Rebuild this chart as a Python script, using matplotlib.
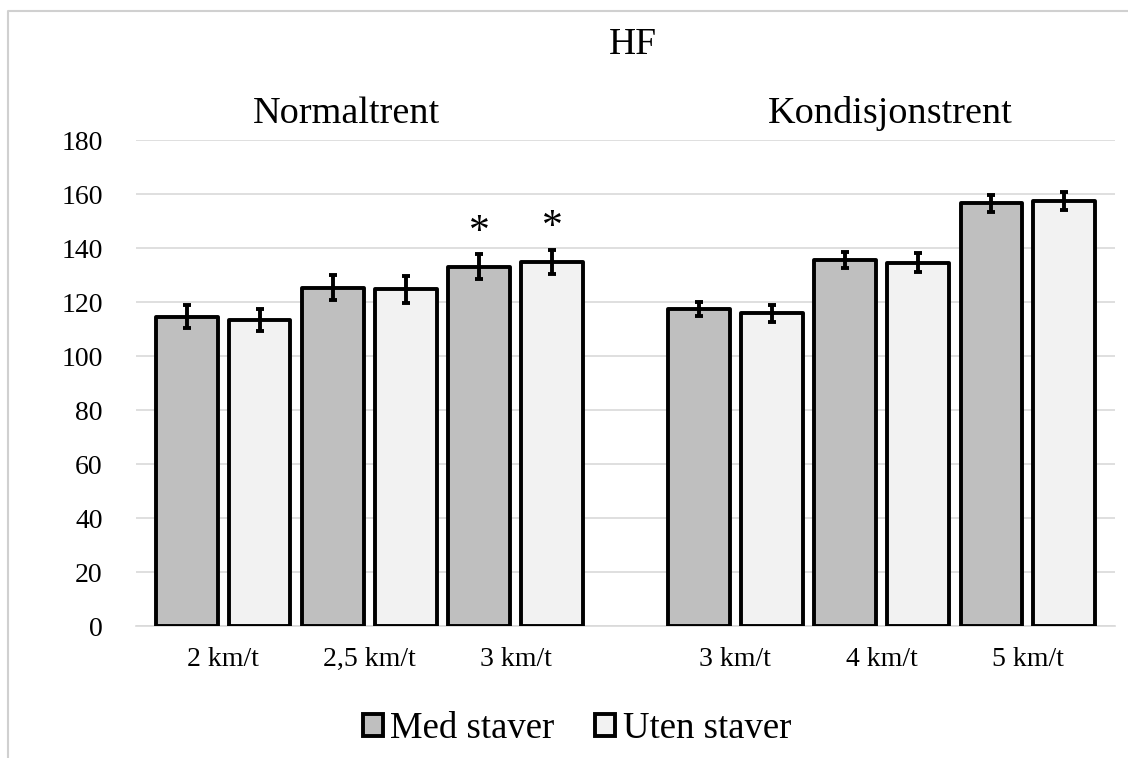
import matplotlib
matplotlib.use("Agg")
import matplotlib.pyplot as plt
from matplotlib.patches import Patch
from matplotlib.lines import Line2D
import numpy as np

categories = ["2 km/t", "2,5 km/t", "3 km/t", "3 km/t", "4 km/t", "5 km/t"]
positions = [0, 1, 2, 3.5, 4.5, 5.5]
med_staver = [114.6, 125.3, 133.1, 117.3, 135.6, 156.5]
med_err = [4.2, 4.7, 4.6, 2.6, 3.1, 3.3]
uten_staver = [113.3, 124.7, 134.9, 115.8, 134.6, 157.5]
uten_err = [4.0, 5.0, 4.5, 3.1, 3.5, 3.3]
significant = [False, False, True, False, False, False]

plt.rcParams["font.family"] = ["Liberation Serif", "DejaVu Serif"]

W, H = 1128, 758
fig = plt.figure(figsize=(W / 100, H / 100), dpi=100)
ax = fig.add_axes([136 / W, 1 - 626 / H, (1115 - 136) / W, (626 - 140) / H])

x = np.array(positions)
bw = 0.423
off = 0.249
grey = "#bfbfbf"
light = "#f2f2f2"
lw = 2.8

ax.bar(x - off, med_staver, bw, color=grey, edgecolor="black", linewidth=lw,
       joinstyle="round", zorder=3)
ax.bar(x + off, uten_staver, bw, color=light, edgecolor="black", linewidth=lw,
       joinstyle="round", zorder=3)
ek = dict(fmt="none", ecolor="black", elinewidth=2.8, capsize=3, capthick=2.8, zorder=4)
ax.errorbar(x - off, med_staver, yerr=med_err, **ek)
ax.errorbar(x + off, uten_staver, yerr=uten_err, **ek)

for i, sig in enumerate(significant):
    if sig:
        ax.text(x[i] - off, med_staver[i] + med_err[i] + 8, "*", ha="center", va="center",
                fontsize=30)
        ax.text(x[i] + off, uten_staver[i] + uten_err[i] + 8, "*", ha="center", va="center",
                fontsize=30)

ax.set_xlim(-0.595, 6.095)
ax.set_ylim(0, 180)
ax.set_yticks(range(0, 181, 20))
ax.set_xticks(x)
ax.set_xticklabels(categories)
ax.tick_params(axis="both", length=0, labelsize=20, colors="black")
ax.tick_params(axis="y", pad=24)
ax.tick_params(axis="x", pad=15)
ax.grid(axis="y", color="#d9d9d9", linewidth=1.2, zorder=0)
for s in ["left", "right", "top"]:
    ax.spines[s].set_visible(False)
ax.spines["bottom"].set_color("#d9d9d9")
ax.spines["bottom"].set_linewidth(1.2)

fig.text(633 / W, 1 - 45 / H, "HF", ha="center", va="center", fontsize=27)
fig.text(347 / W, 1 - 123 / H, "Normaltrent", ha="center", va="baseline", fontsize=27.5)
fig.text(890 / W, 1 - 123 / H, "Kondisjonstrent", ha="center", va="baseline", fontsize=27.5)

handles = [Patch(facecolor=grey, edgecolor="black", linewidth=lw),
           Patch(facecolor=light, edgecolor="black", linewidth=lw)]
fig.legend(handles, ["Med staver", "Uten staver"], loc="center",
           bbox_to_anchor=(577 / W, 1 - 729 / H), ncol=2, frameon=False, fontsize=26.5,
           handlelength=0.55, handleheight=0.55, handletextpad=0.2, columnspacing=1.1)

# outer chart border (left and top visible)
fig.add_artist(Line2D([8 / W, 8 / W, 1], [0, 1 - 11 / H, 1 - 11 / H],
                      color="#d0d0d0", linewidth=1.5, transform=fig.transFigure))

fig.savefig("out.png", dpi=100)
